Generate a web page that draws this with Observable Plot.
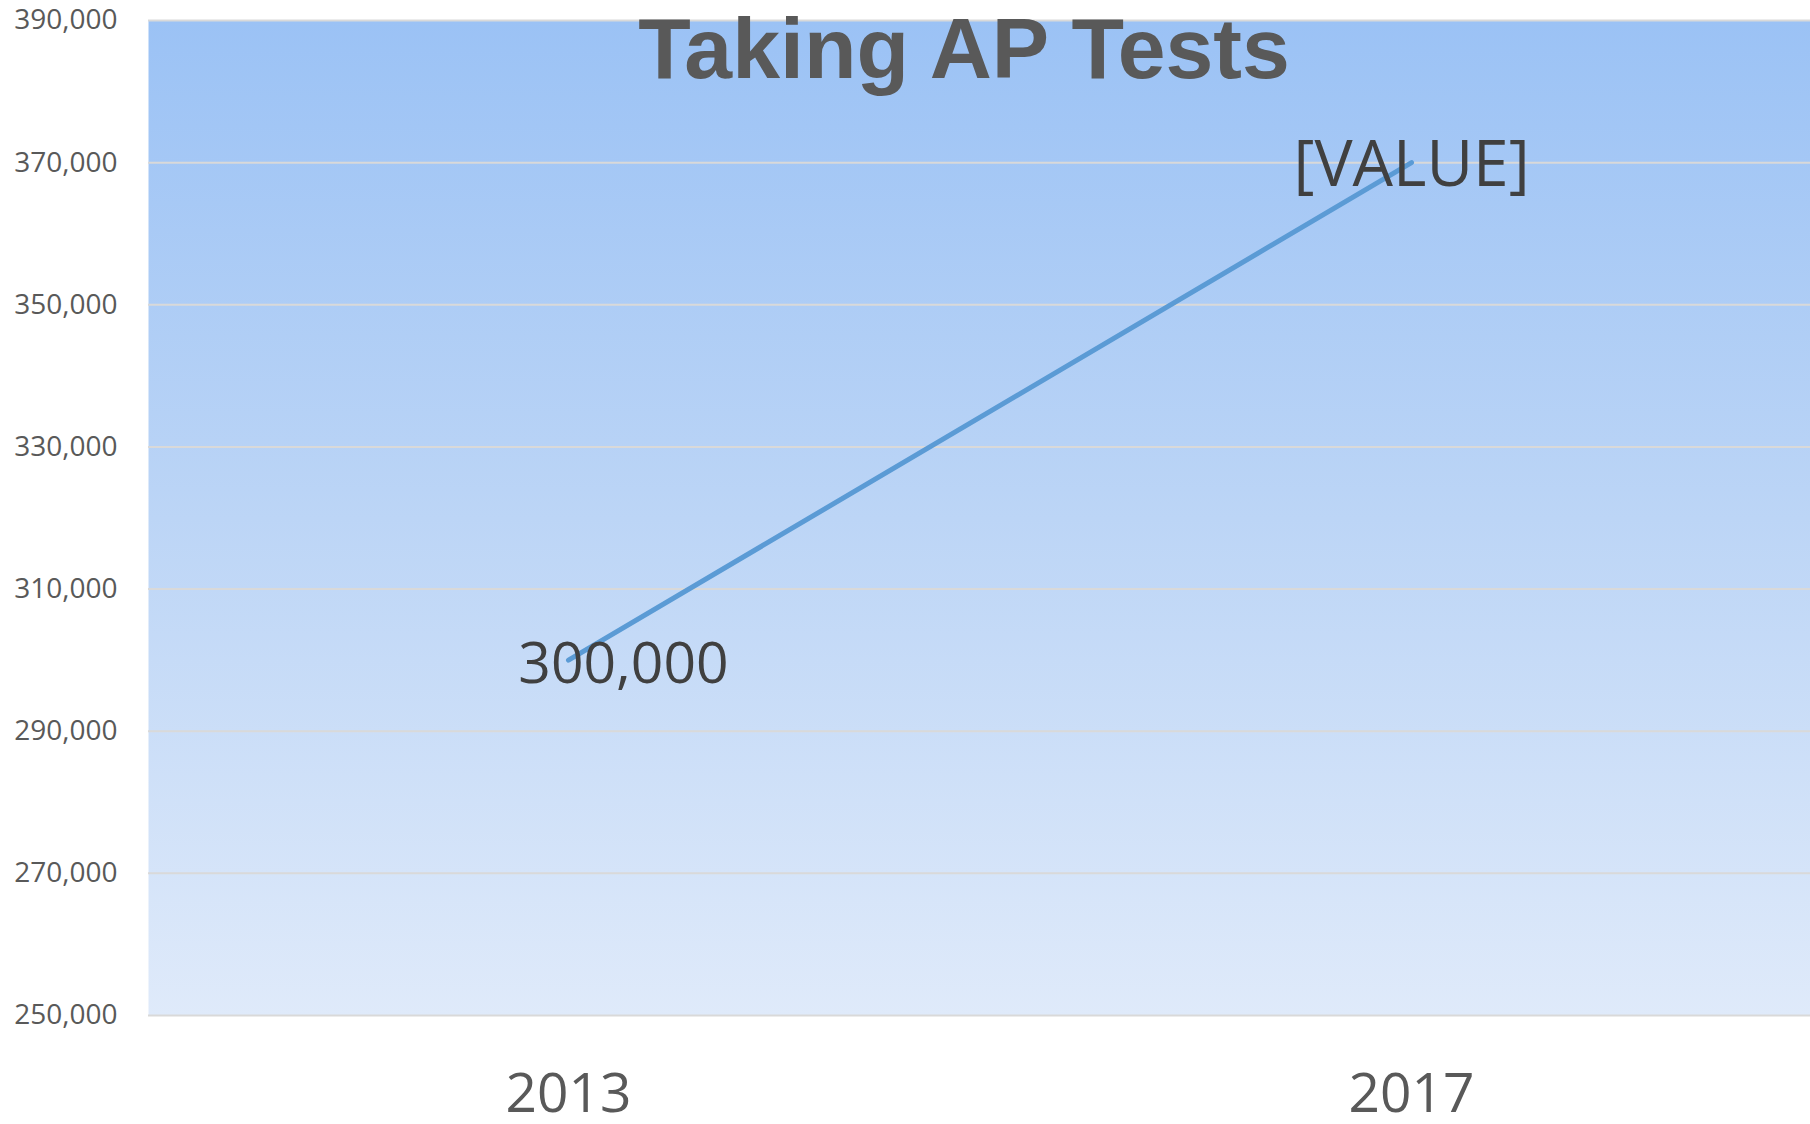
<!DOCTYPE html>
<html>
<head>
<meta charset="utf-8">
<script src="https://cdn.jsdelivr.net/npm/d3@7"></script>
<script src="https://cdn.jsdelivr.net/npm/@observablehq/plot@0.6"></script>
<style>
  html, body { margin: 0; padding: 0; background: #ffffff; }
  #wrap { position: relative; width: 1810px; height: 1124px; overflow: hidden; }
  #title {
    position: absolute; left: 964px; top: 5px; transform: translateX(-50%);
    font-family: "Liberation Sans", Arial, sans-serif; font-weight: bold;
    font-size: 86px; line-height: 1; color: #595959; white-space: nowrap;
  }
</style>
</head>
<body>
<div id="wrap"><div id="chart"></div><div id="title">Taking AP Tests</div></div>
<script>
const years = ["2013", "2017"];
const students = [300000, 370000];
const pointLabels = ["300,000", "[VALUE]"];
const yTicks = [250000, 270000, 290000, 310000, 330000, 350000, 370000, 390000];

const data = years.map((year, i) => ({year, students: students[i], label: pointLabels[i]}));

const chart = Plot.plot({
  width: 1810,
  height: 1124,
  marginLeft: 148,
  marginRight: 0,
  marginTop: 20,
  marginBottom: 109,
  style: {fontFamily: "'Open Sans', sans-serif", background: "transparent"},
  x: {type: "point", domain: years, range: [568, 1411], padding: 0, label: null},
  y: {domain: [250000, 390000], label: null},
  marks: [
    Plot.frame({fill: "url(#bgGrad)", stroke: null}),
    Plot.gridY(yTicks, {stroke: "#d9d9d9", strokeOpacity: 1, strokeWidth: 2}),
    Plot.axisY(yTicks, {
      tickFormat: d3.format(","), tickSize: 0, tickPadding: 31,
      fontSize: 28, fill: "#595959", label: null
    }),
    Plot.axisX({tickSize: 0, tickPadding: 57, fontSize: 55, fill: "#595959", label: null}),
    Plot.line(data, {
      x: "year", y: "students", stroke: "#5b9bd5", strokeWidth: 5,
      strokeLinecap: "round"
    }),
    Plot.text(data.slice(0, 1), {
      x: "year", y: "students", text: "label", fontSize: 57, fill: "#404040",
      textAnchor: "middle", dx: 55, dy: 5
    }),
    Plot.text(data.slice(1), {
      x: "year", y: "students", text: "label", fontSize: 64, fill: "#404040",
      textAnchor: "middle", dx: 0, dy: 3
    })
  ]
});

// gradient background for the plot area
const ns = "http://www.w3.org/2000/svg";
const defs = document.createElementNS(ns, "defs");
const grad = document.createElementNS(ns, "linearGradient");
grad.setAttribute("id", "bgGrad");
grad.setAttribute("x1", "0"); grad.setAttribute("y1", "0");
grad.setAttribute("x2", "0"); grad.setAttribute("y2", "1");
[["0%", "#9bc2f5"], ["50%", "#bcd5f6"], ["100%", "#dfeafa"]].forEach(([o, c]) => {
  const s = document.createElementNS(ns, "stop");
  s.setAttribute("offset", o); s.setAttribute("stop-color", c);
  grad.appendChild(s);
});
defs.appendChild(grad);
chart.insertBefore(defs, chart.firstChild);

document.getElementById("chart").appendChild(chart);
</script>
</body>
</html>
